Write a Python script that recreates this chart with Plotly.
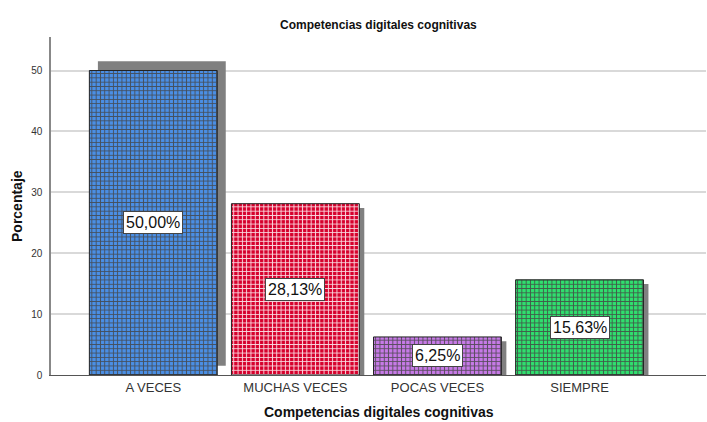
import plotly.graph_objects as go

# Datos
categorias = ["A VECES", "MUCHAS VECES", "POCAS VECES", "SIEMPRE"]
porcentajes = [50.00, 28.13, 6.25, 15.63]
etiquetas = ["50,00%", "28,13%", "6,25%", "15,63%"]
colores = ["#4a8fe6", "#d6002c", "#c77ae8", "#2fe06e"]

# desplazamiento de la sombra (el primer bar tiene la sombra hacia arriba)
sombra_base = [1.5, -0.7, -0.7, -0.7]
sombra_offset = [-0.39, -0.415, -0.415, -0.415]

fig = go.Figure()

# sombras grises
fig.add_trace(
    go.Bar(
        x=categorias,
        y=porcentajes,
        base=sombra_base,
        offset=sombra_offset,
        width=0.9,
        marker=dict(color="#808080", line=dict(width=0)),
        hoverinfo="skip",
        showlegend=False,
    )
)

# barras con trama de cuadrícula
fig.add_trace(
    go.Bar(
        x=categorias,
        y=porcentajes,
        width=0.9,
        marker=dict(
            color=colores,
            line=dict(color="#222222", width=1),
            pattern=dict(
                shape="+",
                fgcolor="#151515",
                fgopacity=0.85,
                size=4.3,
                solidity=0.4,
                fillmode="overlay",
            ),
        ),
        showlegend=False,
    )
)

for cat, val, txt in zip(categorias, porcentajes, etiquetas):
    fig.add_annotation(
        x=cat,
        y=val / 2,
        text=txt,
        showarrow=False,
        font=dict(family="Liberation Sans, Arial", size=16, color="#111111"),
        bgcolor="white",
        bordercolor="#444444",
        borderwidth=1,
        borderpad=2,
    )

# títulos (posición fija, sin automargin)
fig.add_annotation(
    text="<b>Competencias digitales cognitivas</b>",
    xref="paper", yref="paper", x=0.5, y=1, yshift=3,
    yanchor="bottom", showarrow=False,
    font=dict(size=12, color="#111111"),
)
fig.add_annotation(
    text="<b>Competencias digitales cognitivas</b>",
    xref="paper", yref="paper", x=0.5, y=0, yshift=-27,
    yanchor="top", showarrow=False,
    font=dict(size=14, color="#111111"),
)
fig.add_annotation(
    text="<b>Porcentaje</b>",
    xref="paper", yref="paper", x=0, xshift=-44, y=0.5,
    textangle=-90, showarrow=False,
    font=dict(size=14, color="#111111"),
)

fig.update_layout(
    width=707,
    height=422,
    margin=dict(l=51, r=1, t=37, b=47, autoexpand=False),
    paper_bgcolor="white",
    plot_bgcolor="white",
    barmode="overlay",
    font=dict(family="Liberation Sans, Arial", color="#333333"),
)

fig.update_xaxes(
    range=[-0.72, 3.89],
    automargin=False,
    showline=True,
    linecolor="#555555",
    linewidth=1,
    ticks="",
    tickfont=dict(size=13, color="#333333"),
)
fig.update_yaxes(
    range=[0, 55.5],
    automargin=False,
    tickvals=[0, 10, 20, 30, 40, 50],
    ticklabelstandoff=5,
    showline=True,
    linecolor="#888888",
    linewidth=1.5,
    showgrid=True,
    gridcolor="#d9d9d9",
    gridwidth=1.5,
    zeroline=False,
    ticks="",
    tickfont=dict(size=10, color="#333333"),
)

fig.write_html(
    "out.html",
    config={"displayModeBar": False},
    post_script="document.body.style.margin='0';",
)
